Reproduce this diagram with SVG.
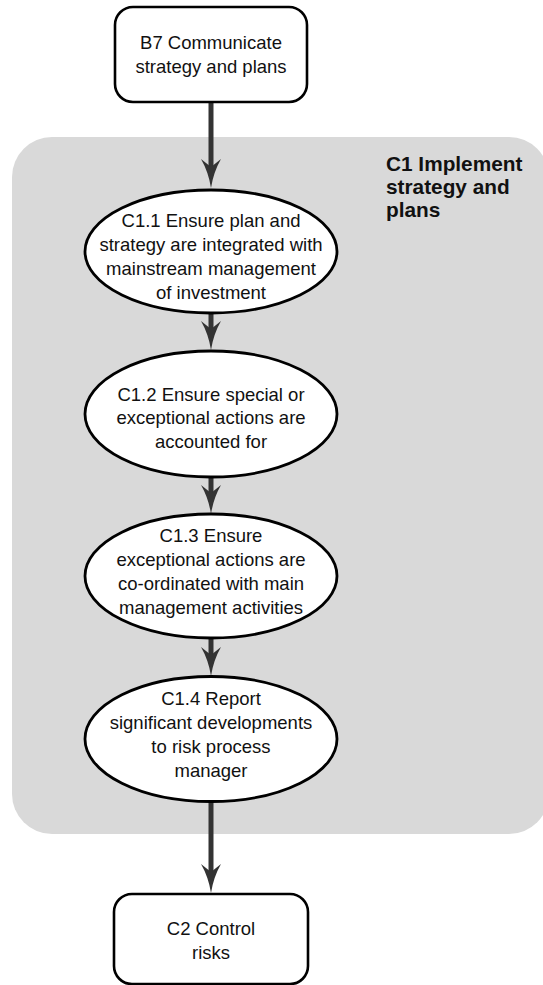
<svg xmlns="http://www.w3.org/2000/svg" width="543" height="985" viewBox="0 0 543 985">
<defs>
<style>
.box{fill:#ffffff;stroke:#000000;stroke-width:2.6}
.ell{fill:#ffffff;stroke:#000000;stroke-width:2.8}
.t{font-family:"Liberation Sans",Arial,Helvetica,sans-serif;font-size:18.5px;fill:#111111;text-anchor:middle}
.title{font-family:"Liberation Sans",Arial,Helvetica,sans-serif;font-size:20.8px;font-weight:bold;fill:#111111}
.conn{stroke:#333333;stroke-width:5;fill:none;marker-end:url(#arr)}
</style>
<marker id="arr" markerUnits="userSpaceOnUse" viewBox="0 0 30 20" markerWidth="30" markerHeight="20" refX="9" refY="10" orient="auto">
<path d="M29,10 Q13,7.5 0,0 L8,10 L0,20 Q13,12.5 29,10 Z" fill="#333333"/>
</marker>
</defs>
<g id="C1">
<rect x="12" y="137" width="537" height="697" rx="40" ry="40" fill="#d9d9d9"/>
<text class="title" x="386"><tspan x="386" y="171">C1 Implement</tspan><tspan x="386" y="194">strategy and</tspan><tspan x="386" y="217">plans</tspan></text>
</g>
<g id="connectors">
<line class="conn" x1="211" y1="102" x2="211" y2="168"/>
<line class="conn" x1="211" y1="313" x2="211" y2="330"/>
<line class="conn" x1="211" y1="477" x2="211" y2="494"/>
<line class="conn" x1="211" y1="638" x2="211" y2="656"/>
<line class="conn" x1="211" y1="802" x2="211" y2="873"/>
</g>
<g id="B7">
<rect class="box" x="115" y="7" width="192" height="95" rx="18" ry="18"/>
<text class="t"><tspan x="211" y="48.5">B7 Communicate</tspan><tspan x="211" y="72.5">strategy and plans</tspan></text>
</g>
<g id="C1.1">
<ellipse class="ell" cx="211" cy="251.5" rx="126" ry="61.5"/>
<text class="t"><tspan x="211" y="226.5">C1.1 Ensure plan and</tspan><tspan x="211" y="250.5">strategy are integrated with</tspan><tspan x="211" y="274.5">mainstream management</tspan><tspan x="211" y="298.5">of investment</tspan></text>
</g>
<g id="C1.2">
<ellipse class="ell" cx="211" cy="414" rx="126" ry="63"/>
<text class="t"><tspan x="211" y="400.5">C1.2 Ensure special or</tspan><tspan x="211" y="424">exceptional actions are</tspan><tspan x="211" y="447.5">accounted for</tspan></text>
</g>
<g id="C1.3">
<ellipse class="ell" cx="211" cy="576" rx="126" ry="62"/>
<text class="t"><tspan x="211" y="541.5">C1.3 Ensure</tspan><tspan x="211" y="565.5">exceptional actions are</tspan><tspan x="211" y="589.5">co-ordinated with main</tspan><tspan x="211" y="613.5">management activities</tspan></text>
</g>
<g id="C1.4">
<ellipse class="ell" cx="211" cy="739" rx="126" ry="62.5"/>
<text class="t"><tspan x="211" y="705">C1.4 Report</tspan><tspan x="211" y="729">significant developments</tspan><tspan x="211" y="753">to risk process</tspan><tspan x="211" y="777">manager</tspan></text>
</g>
<g id="C2">
<rect class="box" x="114" y="894" width="194" height="90" rx="18" ry="18"/>
<text class="t"><tspan x="211" y="935">C2 Control</tspan><tspan x="211" y="959">risks</tspan></text>
</g>
</svg>
